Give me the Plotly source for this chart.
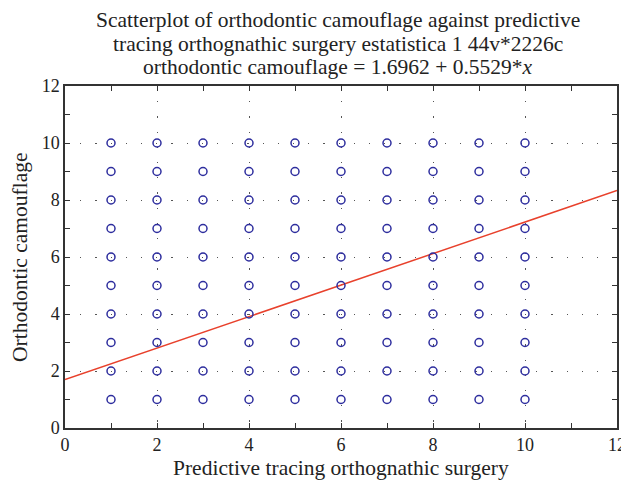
import plotly.graph_objects as go

predictive_tracing = [
    1, 1, 1, 1, 1, 1, 1, 1, 1, 1,
    2, 2, 2, 2, 2, 2, 2, 2, 2, 2,
    3, 3, 3, 3, 3, 3, 3, 3, 3, 3,
    4, 4, 4, 4, 4, 4, 4, 4, 4, 4,
    5, 5, 5, 5, 5, 5, 5, 5, 5, 5,
    6, 6, 6, 6, 6, 6, 6, 6, 6, 6,
    7, 7, 7, 7, 7, 7, 7, 7, 7, 7,
    8, 8, 8, 8, 8, 8, 8, 8, 8, 8,
    9, 9, 9, 9, 9, 9, 9, 9, 9, 9,
    10, 10, 10, 10, 10, 10, 10, 10, 10, 10,
]
orthodontic_camouflage = [
    1, 2, 3, 4, 5, 6, 7, 8, 9, 10,
    1, 2, 3, 4, 5, 6, 7, 8, 9, 10,
    1, 2, 3, 4, 5, 6, 7, 8, 9, 10,
    1, 2, 3, 4, 5, 6, 7, 8, 9, 10,
    1, 2, 3, 4, 5, 6, 7, 8, 9, 10,
    1, 2, 3, 4, 5, 6, 7, 8, 9, 10,
    1, 2, 3, 4, 5, 6, 7, 8, 9, 10,
    1, 2, 3, 4, 5, 6, 7, 8, 9, 10,
    1, 2, 3, 4, 5, 6, 7, 8, 9, 10,
    1, 2, 3, 4, 5, 6, 7, 8, 9, 10,
]
intercept = 1.6962
slope = 0.5529
fit_x = [0, 12]
fit_y = [intercept + slope * v for v in fit_x]

title_lines = [
    "Scatterplot of orthodontic camouflage against predictive",
    "tracing orthognathic surgery estatistica 1 44v*2226c",
    "orthodontic camouflage = 1.6962 + 0.5529*<i>x</i>",
]
x_title = "Predictive tracing orthognathic surgery"
y_title = "Orthodontic camouflage"

serif = "Liberation Serif, DejaVu Serif, serif"
txt = "#222"

fig = go.Figure()
fig.add_trace(go.Scatter(
    x=fit_x, y=fit_y, mode="lines",
    line=dict(color="#e8412c", width=1.5),
    showlegend=False, hoverinfo="skip",
))
fig.add_trace(go.Scatter(
    x=predictive_tracing, y=orthodontic_camouflage, mode="markers",
    marker=dict(symbol="circle-open", size=8, color="#2e2e9e",
                line=dict(width=1.5, color="#2e2e9e")),
    showlegend=False,
))

axis_common = dict(
    showline=True, linecolor="#333", linewidth=1.5, mirror="ticks",
    ticks="inside", ticklen=5, tickcolor="#333", tickwidth=1,
    dtick=2, tick0=0,
    minor=dict(ticks="inside", ticklen=5, dtick=1, tickcolor="#333", showgrid=False),
    showgrid=True, gridcolor="#555", gridwidth=1, griddash="1.2px,14px",
    zeroline=False, automargin=False, ticklabeloverflow="allow",
    tickfont=dict(family=serif, size=18, color=txt),
)

annotations = []
for line, py in zip(title_lines, [20, 44, 67]):
    annotations.append(dict(
        text=line, xref="paper", yref="paper",
        x=(338 - 65) / 552, y=(428 - py) / 342,
        xanchor="center", yanchor="middle", showarrow=False,
        font=dict(family=serif, size=21.5, color=txt),
    ))
annotations.append(dict(
    text=x_title, xref="paper", yref="paper",
    x=0.5, y=(428 - 468) / 342, xanchor="center", yanchor="middle",
    showarrow=False, font=dict(family=serif, size=21.5, color=txt),
))
annotations.append(dict(
    text=y_title, xref="paper", yref="paper",
    x=(20 - 65) / 552, y=0.5, xanchor="center", yanchor="middle",
    textangle=-90, showarrow=False, font=dict(family=serif, size=21.5, color=txt),
))

# The page body has an 8px default margin, so the figure is sized to fit the window.
fig.update_layout(
    width=621, height=478,
    margin=dict(l=57, r=12, t=78, b=58),
    paper_bgcolor="white", plot_bgcolor="white",
    xaxis=dict(range=[0, 12], **axis_common),
    yaxis=dict(range=[0, 12], **axis_common),
    annotations=annotations,
)

fig.write_html("out.html")
